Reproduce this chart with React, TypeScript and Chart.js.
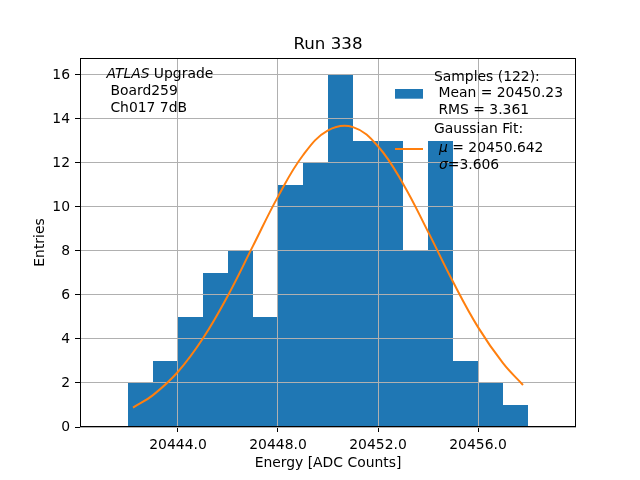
import React, { useEffect, useRef } from "react";
import { Chart, registerables } from "chart.js";

Chart.register(...registerables);

// histogram: bin edges and counts (122 samples)
const binEdges = [
    20442, 20443, 20444, 20445, 20446, 20447, 20448, 20449, 20450,
    20451, 20452, 20453, 20454, 20455, 20456, 20457, 20458,
];
const binCounts = [2, 3, 5, 7, 8, 5, 11, 12, 16, 13, 13, 8, 13, 3, 2, 1];

// gaussian fit curve
const fitX = [
    20442.2, 20443, 20444, 20445, 20446, 20447, 20448, 20449, 20450,
    20451, 20452, 20453, 20454, 20455, 20456, 20457, 20457.8,
];
const fitY = [
    0.88, 1.45, 2.51, 4.03, 5.98, 8.23, 10.47, 12.35, 13.48,
    13.63, 12.76, 11.06, 8.88, 6.6, 4.54, 2.9, 1.91,
];

const titleText = "Run 338";
const xLabel = "Energy [ADC Counts]";
const yLabel = "Entries";
const infoLines = [" Board259", " Ch017 7dB"];
const sampleLines = ["Samples (122):", " Mean = 20450.23", " RMS = 3.361"];
const fitLines = ["Gaussian Fit:", " = 20450.642", "=3.606"];

const FONT = "'DejaVu Sans', sans-serif";
const BLUE = "#1f77b4";
const ORANGE = "#ff7f0e";

const overlay = {
    id: "overlay",
    beforeDatasetDraw(_chart: Chart, args: any) {
        // the fit line is drawn later, above the grid
        if (args.index === 1) return false;
    },
    afterDraw(chart: Chart) {
        const { ctx, chartArea: a } = chart;

        ctx.save();
        ctx.beginPath();
        ctx.rect(a.left, a.top, a.right - a.left, a.bottom - a.top);
        ctx.clip();
        chart.getDatasetMeta(1).controller.draw();
        ctx.restore();

        ctx.save();
        ctx.strokeStyle = "#000";
        ctx.lineWidth = 1;
        ctx.strokeRect(Math.round(a.left) + 0.5, Math.round(a.top) + 0.5,
            Math.round(a.right - a.left) - 1, Math.round(a.bottom - a.top) - 1);

        ctx.fillStyle = "#000";
        ctx.textBaseline = "alphabetic";
        const mid = (a.left + a.right) / 2;

        ctx.font = `16.67px ${FONT}`;
        ctx.textAlign = "center";
        ctx.fillText(titleText, mid, 49);

        ctx.font = `13.9px ${FONT}`;
        ctx.fillText(xLabel, mid, 467);

        ctx.save();
        ctx.translate(44, (a.top + a.bottom) / 2);
        ctx.rotate(-Math.PI / 2);
        ctx.fillText(yLabel, 0, 0);
        ctx.restore();

        // run info text
        ctx.textAlign = "left";
        ctx.font = `italic 13.9px ${FONT}`;
        ctx.fillText(" ATLAS", 102, 78);
        const w = ctx.measureText(" ATLAS").width;
        ctx.font = `13.9px ${FONT}`;
        ctx.fillText(" Upgrade", 102 + w, 78);
        infoLines.forEach((t, i) => ctx.fillText(t, 106, 95 + i * 16.7));

        // legend
        ctx.fillStyle = BLUE;
        ctx.fillRect(395, 89, 28, 9.7);
        ctx.strokeStyle = ORANGE;
        ctx.lineWidth = 2;
        ctx.beginPath();
        ctx.moveTo(395, 149);
        ctx.lineTo(423, 149);
        ctx.stroke();

        ctx.fillStyle = "#000";
        sampleLines.forEach((t, i) => ctx.fillText(t, 434, 81 + i * 16.3));
        ctx.fillText(fitLines[0], 434, 133.3);
        ctx.font = `italic 13.9px ${FONT}`;
        ctx.fillText("μ", 439, 152);
        const mw = ctx.measureText("μ").width;
        ctx.fillText("σ", 439, 169);
        const sw = ctx.measureText("σ").width;
        ctx.font = `13.9px ${FONT}`;
        ctx.fillText(fitLines[1], 439 + mw, 152);
        ctx.fillText(fitLines[2], 439 + sw, 169);
        ctx.restore();
    },
};

const App: React.FC = () => {
    const canvasRef = useRef<HTMLCanvasElement | null>(null);

    useEffect(() => {
        document.body.style.margin = "0";
        if (!canvasRef.current) return;

        const histData = binEdges.map((x, i) => ({
            x,
            y: binCounts[Math.min(i, binCounts.length - 1)],
        }));
        const fitData = fitX.map((x, i) => ({ x, y: fitY[i] }));

        const tickFont = { family: FONT, size: 13.9 };
        const grid = {
            color: "#b0b0b0",
            lineWidth: 1,
            z: 1,
            tickColor: "#000",
            tickLength: 5,
            tickWidth: 1,
        };

        const chart = new Chart(canvasRef.current, {
            type: "line",
            data: {
                datasets: [
                    {
                        label: "Samples",
                        data: histData,
                        stepped: "before",
                        fill: "origin",
                        backgroundColor: BLUE,
                        borderColor: "rgba(0,0,0,0)",
                        borderWidth: 0,
                        pointRadius: 0,
                    },
                    {
                        label: "Gaussian Fit",
                        data: fitData,
                        fill: false,
                        borderColor: ORANGE,
                        borderWidth: 2,
                        tension: 0.4,
                        pointRadius: 0,
                    },
                ],
            },
            options: {
                responsive: true,
                maintainAspectRatio: false,
                animation: false,
                events: [],
                layout: { padding: { top: 58, right: 64, left: 0, bottom: 0 } },
                plugins: {
                    legend: { display: false },
                    title: { display: false },
                    tooltip: { enabled: false },
                },
                scales: {
                    x: {
                        type: "linear",
                        min: 20440.08,
                        max: 20459.92,
                        grid,
                        border: { display: false },
                        ticks: {
                            stepSize: 4,
                            includeBounds: false,
                            autoSkip: false,
                            maxRotation: 0,
                            padding: 5,
                            color: "#000",
                            font: tickFont,
                            callback: (v) => Number(v).toFixed(1),
                        },
                        afterFit: (s) => {
                            s.height = 53;
                        },
                    },
                    y: {
                        min: 0,
                        max: 16.77,
                        grid,
                        border: { display: false },
                        ticks: {
                            stepSize: 2,
                            includeBounds: false,
                            padding: 5,
                            color: "#000",
                            font: tickFont,
                        },
                        afterFit: (s) => {
                            s.width = 80;
                        },
                    },
                },
            },
            plugins: [overlay],
        });

        return () => chart.destroy();
    }, []);

    return (
        <div style={{ position: "relative", width: 640, height: 480 }}>
            <canvas ref={canvasRef} />
        </div>
    );
};

export default App;
